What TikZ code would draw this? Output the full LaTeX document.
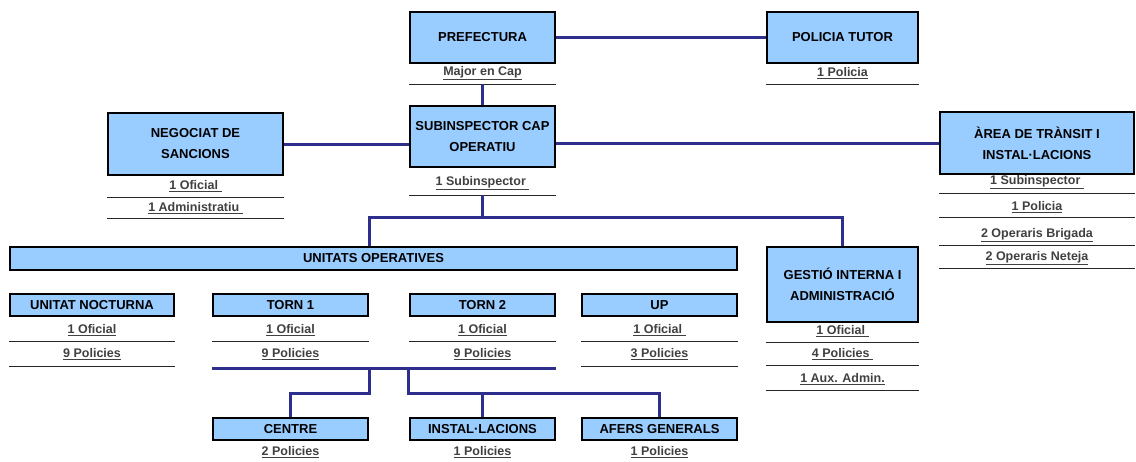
\documentclass[tikz,border=0pt]{standalone}
\usepackage{fontspec}
\setmainfont{Liberation Sans}
\usepackage{xcolor}
\usepackage{tikz}

\definecolor{boxblue}{RGB}{153,204,255}
\definecolor{linkblue}{RGB}{46,46,140}
\definecolor{staffgray}{RGB}{64,64,64}

\tikzset{
    unitbox/.style={draw=black, line width=2.4pt, fill=boxblue, inner sep=0pt, align=center,
        font=\fontsize{13}{21}\selectfont\bfseries},
    link/.style={draw=linkblue, line width=3pt},
    staff/.style={font=\fontsize{12.5}{14}\selectfont\bfseries, text=staffgray, inner sep=1pt},
    rowline/.style={draw=black!85, line width=0.8pt},
}

\begin{document}
\begin{tikzpicture}[x=1pt, y=-1pt]
    \useasboundingbox (0,0) rectangle (1136,461);

    % Top level
    \node[unitbox, minimum width=145pt, minimum height=51pt] (pref) at (482.5,37.5) {PREFECTURA};
    \node[unitbox, minimum width=151pt, minimum height=51pt] (tutor) at (842.5,37.5) {POLICIA TUTOR};

    % Second level
    \node[unitbox, minimum width=145pt, minimum height=61pt] (subcap) at (482.5,136.5) {SUBINSPECTOR CAP\\OPERATIU};
    \node[unitbox, minimum width=175pt, minimum height=62pt] (negoc) at (195.5,144) {NEGOCIAT DE\\SANCIONS};
    \node[unitbox, minimum width=194pt, minimum height=62pt] (area) at (1037,143) {ÀREA DE TRÀNSIT I\\INSTAL·LACIONS};

    % Third level
    \node[unitbox, minimum width=727pt, minimum height=23pt] (unitats) at (373.5,258.5) {UNITATS OPERATIVES};
    \node[unitbox, minimum width=151pt, minimum height=75pt] (gestio) at (842.5,284.5) {GESTIÓ INTERNA I\\ADMINISTRACIÓ};

    % Operative units
    \node[unitbox, minimum width=164pt, minimum height=22pt] (noct) at (92,305) {UNITAT NOCTURNA};
    \node[unitbox, minimum width=155pt, minimum height=22pt] (torn1) at (290.5,305) {TORN 1};
    \node[unitbox, minimum width=145pt, minimum height=22pt] (torn2) at (482.5,305) {TORN 2};
    \node[unitbox, minimum width=155pt, minimum height=22pt] (up) at (659.5,305) {UP};

    % Sections
    \node[unitbox, minimum width=155pt, minimum height=22pt] (centre) at (290.5,429) {CENTRE};
    \node[unitbox, minimum width=145pt, minimum height=22pt] (instal) at (482.5,429) {INSTAL·LACIONS};
    \node[unitbox, minimum width=155pt, minimum height=22pt] (afers) at (659.5,429) {AFERS GENERALS};

    % Staff
    \foreach \b/\n/\y/\t in {pref/1/73/Major en Cap, tutor/1/73/1 Policia,
        subcap/1/183/1 Subinspector\ , negoc/1/186/1 Oficial\ , negoc/2/208/1 Administratiu\ ,
        area/1/182/1 Subinspector\ , area/2/207/1 Policia, area/3/235/2 Operaris Brigada, area/4/258/2 Operaris Neteja,
        gestio/1/331/1 Oficial\ , gestio/2/354/4 Policies\ , gestio/3/379/1 Aux. Admin.,
        noct/1/330/1 Oficial, noct/2/354/9 Policies, torn1/1/330/1 Oficial, torn1/2/354/9 Policies,
        torn2/1/330/1 Oficial, torn2/2/354/9 Policies, up/1/330/1 Oficial\ , up/2/354/3 Policies,
        centre/1/452/2 Policies, instal/1/452/1 Policies, afers/1/452/1 Policies}
        \node[staff] (\b-\n) at (\b |- 0,\y) {\underline{\t}};

    % Row lines
    \foreach \b/\y in {pref/84, tutor/84, subcap/195, negoc/197, negoc/218,
        area/193, area/217, area/245, area/268, gestio/342, gestio/365, gestio/390,
        noct/341, noct/366, torn1/341, torn2/341, up/341, up/366}
        \draw[rowline] (\b.west |- 0,\y) -- (\b.east |- 0,\y);

    % Links
    \coordinate (prefbase) at (482.5,84);
    \coordinate (subbase) at (482.5,195);
    \coordinate (split) at (482.5,217);
    \coordinate (bus) at (482.5,368);
    \coordinate (low) at (0,393);
    \draw[link] (pref.east) -- (tutor.west);
    \draw[link] (prefbase) -- (subcap.north);
    \draw[link] (negoc.east) -- (subcap.west |- negoc.east);
    \draw[link] (subcap.east |- area.west) -- (area.west);
    \draw[link] (subbase) -- (split);
    \draw[link] (torn1.east |- unitats.north) |- (split) -| (gestio.north);

    % Lower links
    \draw[link] (torn1.west |- bus) -- (torn2.east |- bus);
    \draw[link] (torn1.east |- bus) -- (torn1.east |- low) -| (centre.north);
    \draw[link] (torn2.west |- bus) -- (torn2.west |- low) -| (afers.north);
    \draw[link] (instal.north |- low) -- (instal.north);
\end{tikzpicture}
\end{document}
